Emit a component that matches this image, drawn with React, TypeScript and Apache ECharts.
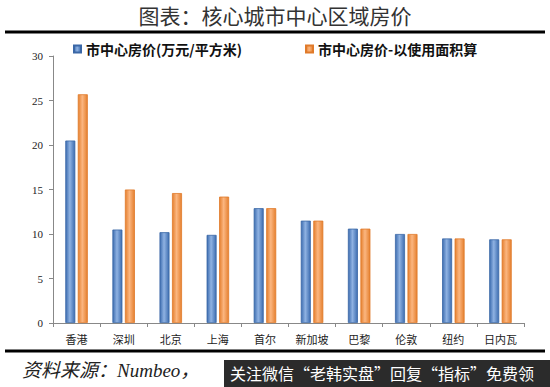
import React, { useEffect, useRef } from "react";
import * as echarts from "echarts";

const categories = ["香港", "深圳", "北京", "上海", "首尔", "新加坡", "巴黎", "伦敦", "纽约", "日内瓦"];
const seriesNames = ["市中心房价(万元/平方米)", "市中心房价-以使用面积算"];
const priceValues = [20.5, 10.5, 10.2, 9.9, 12.9, 11.5, 10.6, 10.0, 9.5, 9.4];
const usableAreaValues = [25.7, 15.0, 14.6, 14.2, 12.9, 11.5, 10.6, 10.0, 9.5, 9.4];
const titleText = "图表：核心城市中心区域房价";
const sourceText = "资料来源：Numbeo，";
const overlayText = "关注微信“老韩实盘”回复“指标”免费领";

function barGradient(edge: string, center: string) {
  return new echarts.graphic.LinearGradient(0, 0, 1, 0, [
    { offset: 0, color: edge },
    { offset: 0.45, color: center },
    { offset: 1, color: edge },
  ]);
}

export default function App() {
  const ref = useRef<HTMLDivElement>(null);
  useEffect(() => {
    if (!ref.current) return;
    const chart = echarts.init(ref.current, undefined, { renderer: "svg" });
    const cjk = '"Noto Sans CJK SC", sans-serif';
    chart.setOption({
      animation: false,
      backgroundColor: "#ffffff",
      grid: { left: 53, right: 26, top: 56, bottom: 64 },
      legend: [
        {
          data: [seriesNames[0]],
          left: 68,
          top: 37,
          itemWidth: 7,
          itemHeight: 7,
          icon: "rect",
          textStyle: { fontFamily: cjk, fontSize: 14, color: "#111", fontWeight: "bold" },
        },
        {
          data: [seriesNames[1]],
          left: 300,
          top: 37,
          itemWidth: 7,
          itemHeight: 7,
          icon: "rect",
          textStyle: { fontFamily: cjk, fontSize: 14, color: "#111", fontWeight: "bold" },
        },
      ],
      xAxis: {
        type: "category",
        data: categories,
        axisLine: { lineStyle: { color: "#888", width: 1 } },
        axisTick: { show: true, alignWithLabel: false, length: 4, lineStyle: { color: "#888" } },
        axisLabel: { fontFamily: cjk, fontSize: 11, color: "#222", margin: 10 },
      },
      yAxis: {
        type: "value",
        min: 0,
        max: 30,
        interval: 5,
        splitLine: { show: false },
        axisLine: { show: true, lineStyle: { color: "#888", width: 1 } },
        axisTick: { show: true, length: 4, lineStyle: { color: "#888" } },
        axisLabel: { fontFamily: '"Liberation Serif", serif', fontSize: 11, color: "#222", margin: 10 },
      },
      series: [
        {
          name: seriesNames[0],
          type: "bar",
          data: priceValues,
          barWidth: 10,
          barGap: "25%",
          itemStyle: { color: barGradient("#3d6db0", "#8fb2e2"), borderColor: "#3a67a6", borderWidth: 0.8 },
        },
        {
          name: seriesNames[1],
          type: "bar",
          data: usableAreaValues,
          barWidth: 10,
          itemStyle: { color: barGradient("#e5802f", "#fbb680"), borderColor: "#e07a2a", borderWidth: 0.8 },
        },
      ],
      color: ["#4f81bd", "#f79646"],
      graphic: [
        {
          type: "text",
          left: "center",
          top: 4,
          style: { text: titleText, fontFamily: cjk, fontSize: 21, fill: "#333" },
        },
        {
          type: "line",
          shape: { x1: 5, y1: 32, x2: 545, y2: 32 },
          style: { stroke: "#000", lineWidth: 3 },
        },
        {
          type: "line",
          shape: { x1: 5, y1: 351, x2: 545, y2: 351 },
          style: { stroke: "#000", lineWidth: 3 },
        },
        {
          type: "text",
          x: 22,
          y: 361,
          style: { text: sourceText, fontFamily: '"Liberation Serif", ' + cjk, fontSize: 19, fontStyle: "italic", fill: "#222" },
        },
        {
          type: "rect",
          shape: { x: 224, y: 360, width: 326, height: 27 },
          style: { fill: "#2b2b2b" },
        },
        {
          type: "text",
          x: 230,
          y: 365,
          style: { text: overlayText, fontFamily: cjk, fontSize: 16, fill: "#ffffff" },
        },
      ],
    });
    return () => chart.dispose();
  }, []);
  return (
    <div
      ref={ref}
      style={{ position: "fixed", left: 0, top: 0, width: 550, height: 387 }}
    />
  );
}
